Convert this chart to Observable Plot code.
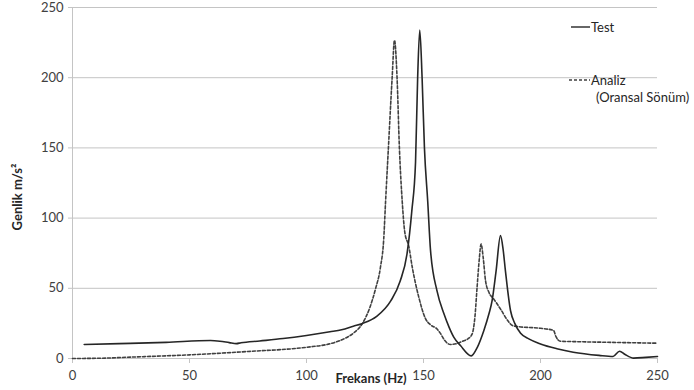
<!DOCTYPE html>
<html>
<head>
<meta charset="utf-8">
<script src="https://cdn.jsdelivr.net/npm/d3@7"></script>
<script src="https://cdn.jsdelivr.net/npm/@observablehq/plot@0.6"></script>
<style>
  html, body { margin: 0; padding: 0; background: #fff; }
  #chart { width: 694px; height: 390px; }
</style>
</head>
<body>
<div id="chart"></div>
<script>
// Test (solid) series
const testFreq = [5, 20, 40, 59, 63, 67, 70, 72, 80, 90, 100, 110, 115, 120, 124, 130, 136, 140, 143, 145, 146.6, 147.5, 148.4, 149.4, 150.4, 151.8, 153, 155.8, 158.7, 161, 163, 165.8, 170.4, 173, 175.8, 178, 179.3, 181, 182.9, 184, 185, 187.2, 189, 191.5, 195, 200, 207, 214, 225, 231, 233.8, 236, 239.8, 245, 250];
const testAmp  = [10, 10.6, 11.5, 12.8, 12.3, 11.3, 10.6, 11.2, 12.5, 14.2, 16.4, 19, 20.5, 23, 25, 30, 41, 55, 75, 105, 140, 200, 234, 200, 150, 112, 77, 48, 32, 22, 15, 9.2, 1.9, 8, 20, 32, 41, 62, 87.5, 78, 62.6, 34, 25, 18, 14, 10.4, 7, 4.5, 2.2, 1.4, 5.2, 3, 0.3, 0.8, 1.4];

// Analiz (Oransal Sönüm) (dashed) series
const analizFreq = [0, 12, 25, 50, 75, 100, 110, 116, 120, 123.8, 127, 129.5, 131.6, 133, 133.8, 135, 136.6, 137.6, 138.7, 139.7, 140.9, 142, 143.7, 145.2, 148, 150.9, 153, 155.8, 157.3, 159, 161.5, 164, 167, 169, 170.8, 172, 172.9, 173.8, 174.6, 175.5, 176.5, 178, 180, 183, 186, 188, 190, 200, 205.6, 206.5, 208.5, 215, 230, 250];
const analizAmp  = [0, 0.2, 1, 2.6, 5, 8, 10.5, 14, 18, 24.7, 36, 49.6, 65, 85, 112, 150, 200, 226.7, 200, 150, 112, 90, 80, 65, 43.6, 28.2, 24, 21, 17.7, 13, 10, 10.5, 12.5, 14, 17.5, 30, 50.7, 70, 81.5, 72, 55.5, 47, 42.4, 35, 27, 23.5, 22.8, 21.5, 20, 16, 12.3, 12, 11.5, 10.9];

const xTicks = [0, 50, 100, 150, 200, 250];
const yTicks = [0, 50, 100, 150, 200, 250];

const testData = testFreq.map((f, i) => ({f, a: testAmp[i]}));
const analizData = analizFreq.map((f, i) => ({f, a: analizAmp[i]}));

const font = "Lato, 'Open Sans', sans-serif";

const chart = Plot.plot({
  width: 694,
  height: 390,
  marginLeft: 72,
  marginRight: 37,
  marginTop: 7,
  marginBottom: 32,
  style: {fontFamily: font, fontSize: "13px", color: "#404040", background: "#fff"},
  x: {domain: [0, 250]},
  y: {domain: [0, 250]},
  marks: [
    Plot.gridY(yTicks, {stroke: "#c4c4c4", strokeOpacity: 1, strokeWidth: 1}),
    Plot.ruleX([0], {stroke: "#c4c4c4", strokeWidth: 1}),
    Plot.ruleY([0], {stroke: "#c4c4c4", strokeWidth: 1}),
    Plot.axisY(yTicks, {tickSize: 4, tickPadding: 5, label: null, stroke: "#c4c4c4", fill: "#404040", fontSize: 13}),
    Plot.axisX(xTicks, {tickSize: 5, tickPadding: 7, label: null, stroke: "#c4c4c4", fill: "#404040", fontSize: 13}),
    Plot.line(analizData, {x: "f", y: "a", stroke: "#404040", strokeWidth: 1.6, strokeDasharray: "3,2", curve: "monotone-x"}),
    Plot.line(testData, {x: "f", y: "a", stroke: "#262626", strokeWidth: 1.6, curve: "monotone-x"})
  ]
});

document.getElementById("chart").appendChild(chart);

// Axis titles and legend
const svg = d3.select(chart);
svg.append("text")
  .attr("transform", "translate(22,197) rotate(-90)")
  .attr("text-anchor", "middle")
  .attr("font-family", font)
  .attr("font-size", 13)
  .attr("font-weight", "bold")
  .attr("fill", "#262626")
  .text("Genlik m/s²");

svg.append("text")
  .attr("x", 371).attr("y", 383)
  .attr("text-anchor", "middle")
  .attr("font-family", font)
  .attr("font-size", 13)
  .attr("font-weight", "bold")
  .attr("fill", "#262626")
  .text("Frekans (Hz)");

const leg = svg.append("g").attr("font-family", font).attr("font-size", 13)
  .attr("fill", "#262626").attr("text-anchor", "start");
leg.append("line").attr("x1", 571).attr("x2", 590).attr("y1", 27).attr("y2", 27)
  .attr("stroke", "#262626").attr("stroke-width", 1.4);
leg.append("text").attr("x", 591).attr("y", 27).attr("dy", "0.35em").text("Test");
leg.append("line").attr("x1", 569).attr("x2", 590).attr("y1", 80).attr("y2", 80)
  .attr("stroke", "#404040").attr("stroke-width", 1.4).attr("stroke-dasharray", "3,2");
leg.append("text").attr("x", 591).attr("y", 80).attr("dy", "0.35em").text("Analiz");
leg.append("text").attr("x", 596).attr("y", 97).attr("dy", "0.35em").text("(Oransal Sönüm)");
</script>
</body>
</html>
